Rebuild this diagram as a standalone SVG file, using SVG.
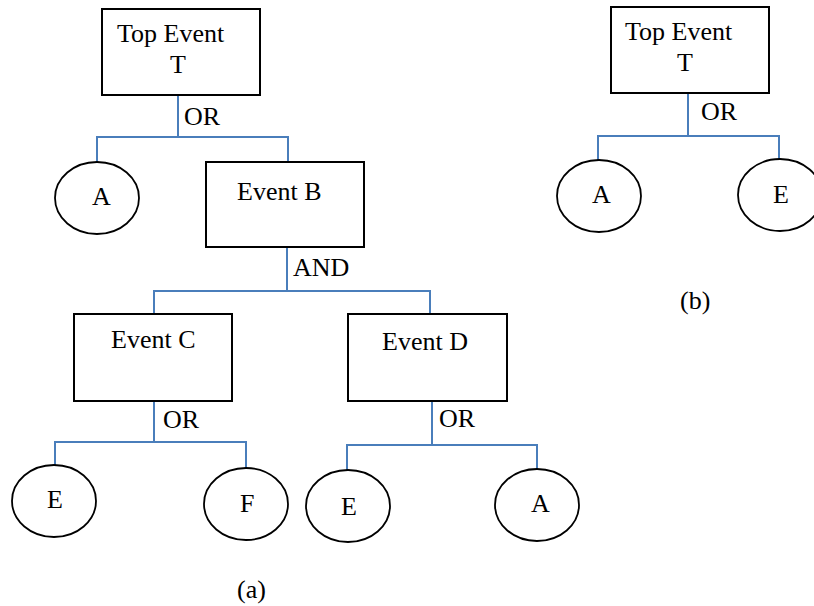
<svg xmlns="http://www.w3.org/2000/svg" width="814" height="606" viewBox="0 0 814 606">
<style>
.box{fill:#fff;stroke:#000;stroke-width:2}
.ell{fill:#fff;stroke:#000;stroke-width:1.8}
.t{font-family:"Liberation Serif","Times New Roman",serif;font-size:26px;fill:#000}
.c{fill:none;stroke:#4A7EBB;stroke-width:2}
</style>
<rect width="814" height="606" fill="#fff"/>
<g id="connectors">
<path class="c" d="M178,95V137M97,162V137H288V162"/>
<path class="c" d="M287,247V291M154,314V291H430V314"/>
<path class="c" d="M154,401V442M55,465V442H246V469"/>
<path class="c" d="M432,401V445M347,470V445H537V469"/>
<path class="c" d="M688,93V136M598,160V136H779V159"/>
</g>
<g id="gates">
<text class="t" x="184" y="125">OR</text>
<text class="t" x="293" y="276">AND</text>
<text class="t" x="163" y="428">OR</text>
<text class="t" x="439" y="427">OR</text>
<text class="t" x="701" y="120">OR</text>
</g>
<g id="topT">
<rect class="box" x="102" y="9" width="158" height="86"/>
<text class="t" x="117" y="42">Top Event</text>
<text class="t" x="178" y="73" text-anchor="middle">T</text>
</g>
<g id="nodeA">
<ellipse class="ell" cx="97" cy="198" rx="42" ry="36"/>
<text class="t" x="92" y="205">A</text>
</g>
<g id="eventB">
<rect class="box" x="206" y="162" width="158" height="85"/>
<text class="t" x="237" y="200">Event B</text>
</g>
<g id="eventC">
<rect class="box" x="74" y="314" width="158" height="87"/>
<text class="t" x="111" y="348">Event C</text>
</g>
<g id="eventD">
<rect class="box" x="348" y="314" width="159" height="87"/>
<text class="t" x="382" y="350">Event D</text>
</g>
<g id="nodeE1">
<ellipse class="ell" cx="54" cy="501" rx="42" ry="36"/>
<text class="t" x="47" y="508">E</text>
</g>
<g id="nodeF">
<ellipse class="ell" cx="246" cy="504" rx="42" ry="36"/>
<text class="t" x="240" y="512">F</text>
</g>
<g id="nodeE2">
<ellipse class="ell" cx="348" cy="506" rx="42" ry="36"/>
<text class="t" x="341" y="515">E</text>
</g>
<g id="nodeA2">
<ellipse class="ell" cx="537" cy="505" rx="42" ry="36"/>
<text class="t" x="531" y="512">A</text>
</g>
<g id="labelA">
<text class="t" x="237" y="598">(a)</text>
</g>
<g id="topT2">
<rect class="box" x="611" y="7" width="158" height="86"/>
<text class="t" x="625" y="40">Top Event</text>
<text class="t" x="685" y="71" text-anchor="middle">T</text>
</g>
<g id="nodeA3">
<ellipse class="ell" cx="599" cy="196" rx="42" ry="36"/>
<text class="t" x="592" y="203">A</text>
</g>
<g id="nodeE3">
<ellipse class="ell" cx="780" cy="195" rx="42" ry="36"/>
<text class="t" x="773" y="203">E</text>
</g>
<g id="labelB">
<text class="t" x="680" y="309">(b)</text>
</g>
</svg>
